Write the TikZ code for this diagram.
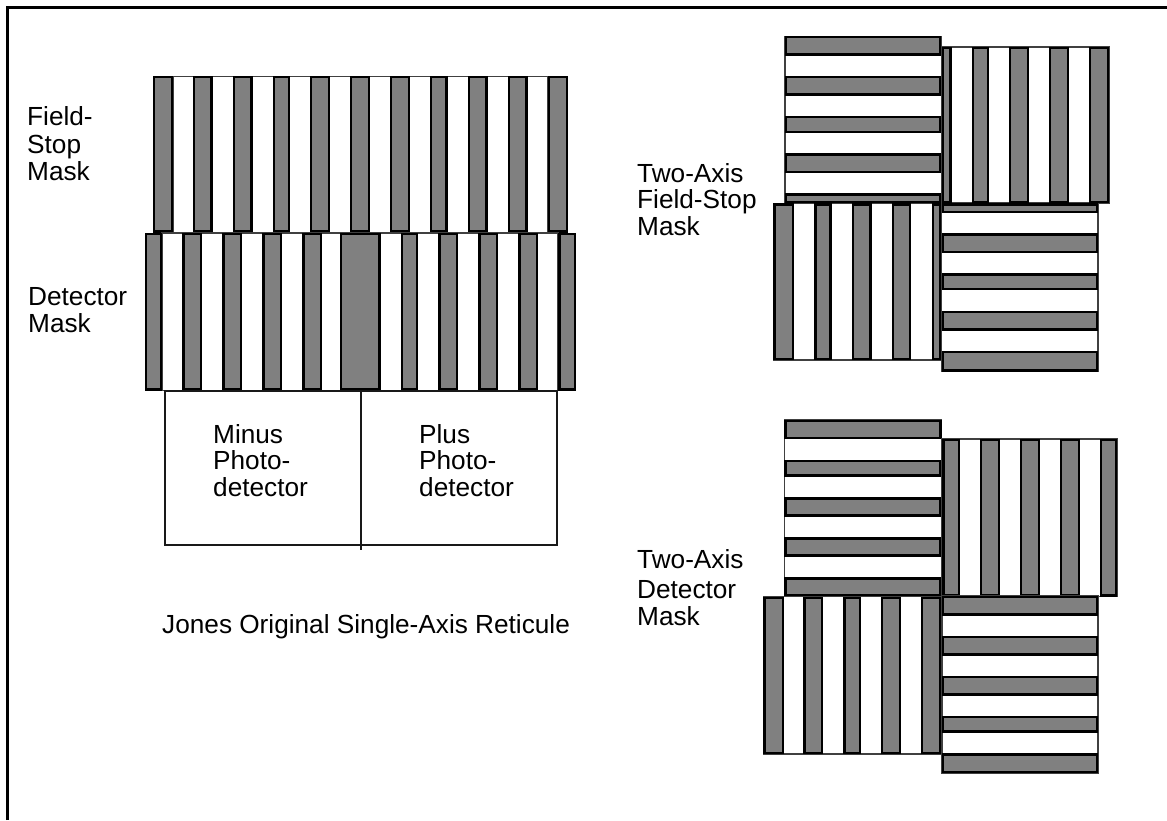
\documentclass[tikz,border=0pt]{standalone}
\usepackage{fontspec}
\setmainfont{Liberation Sans}
\definecolor{maskgray}{HTML}{808080}
\tikzset{
  maskbar/.style={draw=black, line width=2.5pt, fill=maskgray},
  maskback/.style={draw=black!75, line width=1.3pt, fill=white},
  celledge/.style={draw=black!90, line width=2pt},
  masklabel/.style={anchor=north west, align=left, inner sep=0pt,
                    font=\fontsize{26.2}{26.8}\selectfont}
}
\newcommand{\vbars}[3]{% top, bottom, list of left/right
  \foreach \l/\r in {#3} {
    \draw[maskbar] ({\l+1.1},{#1+1.1}) rectangle ({\r-1.1},{#2-1.1});
  }
}
\newcommand{\hbars}[3]{% left, right, list of top/bottom
  \foreach \t/\b in {#3} {
    \draw[maskbar] ({#1+1.1},{\t+1.1}) rectangle ({#2-1.1},{\b-1.1});
  }
}
\begin{document}
\begin{tikzpicture}[x=1pt, y=-1pt]
  \useasboundingbox (0,0) rectangle (1167,820);
  \draw[line width=3pt] (7,820) -- (7,7) -- (1167,7);

  % Single-axis reticule: field stop above, detector mask below.
  \draw[maskback] (173,76.5) rectangle (548,232.5);
  \vbars{76}{232.5}{153/173.3, 192.7/212.7, 232.7/252.7, 272.7/290, 310/330, 350/370,
                    390/410, 430/447.7, 467.7/487.7, 507.7/527.7, 547.7/568.3}
  \draw[maskback] (162,233) rectangle (558,390.5);
  \vbars{232.7}{390.5}{144.7/162.3, 182.3/202.3, 222.3/242.3, 262.3/282.3, 302.3/322.3,
                       340/380.7, 401/418.3, 438.3/458.3, 478.3/498.3, 518.3/538.3,
                       558.3/576}

  % The two photodetector cells.
  \draw[celledge] (164.5,391) rectangle (556.5,545);
  \draw[celledge] (361,391) -- (361,550);

  % Two-axis field stop.
  \draw[maskback] (785,36.5) rectangle (941.5,203);
  \hbars{785}{941}{36/55.7, 76/95.7, 116/133.3, 153.3/173.3, 193.3/203.3}
  \draw[maskback] (941.5,47) rectangle (1109,203);
  \vbars{46.7}{203.3}{941.7/951.7, 971.7/989, 1009/1029, 1049/1069, 1089/1109.3}
  \draw[maskback] (773.5,203.5) rectangle (941.5,360);
  \vbars{203.3}{360}{773.3/794.3, 814.3/831.7, 851.7/871.7, 891.7/911, 931.7/941.7}
  \draw[maskback] (941.5,203.5) rectangle (1098,371);
  \hbars{941.7}{1098.3}{203.3/213.3, 233.3/253.3, 273.3/290, 310.7/330.7, 350.7/371.7}

  % Two-axis detector mask.
  \draw[maskback] (784.5,420) rectangle (941.5,596);
  \hbars{784.3}{941.7}{420/439.3, 460/476.7, 497.3/516.7, 537.3/556.7, 577.3/596}
  \draw[maskback] (942,439) rectangle (1117,596.5);
  \vbars{438.7}{596.7}{942.3/960, 980/1000, 1020/1040, 1060/1080, 1100/1117.3}
  \draw[maskback] (763.5,596.5) rectangle (941.5,754);
  \vbars{596.7}{754.3}{763.3/784.3, 803.3/823.3, 843.3/861, 881/901, 921/941}
  \draw[maskback] (942,596) rectangle (1098,773);
  \hbars{941.7}{1098.3}{596/615.7, 636/655.7, 676/695.7, 715.7/732.7, 753.3/773.3}

  \node[masklabel] (fieldstop) at (27,106) {Field-\\[2pt]Stop\\Mask};
  \node[masklabel] (detector) at (28,287.5) {Detector\\Mask};
  \node[masklabel] (minus) at (213,424) {Minus\\Photo-\\detector};
  \node[masklabel] (plus) at (419,424) {Plus\\Photo-\\detector};
  \node[masklabel] (caption) at (162,614) {Jones Original Single-Axis Reticule};
  \node[masklabel] (twofield) at (637,163) {Two-Axis\\Field-Stop\\Mask};
  \node[masklabel] (twodetector) at (637,549) {Two-Axis\\[4pt]Detector\\Mask};
\end{tikzpicture}
\end{document}
